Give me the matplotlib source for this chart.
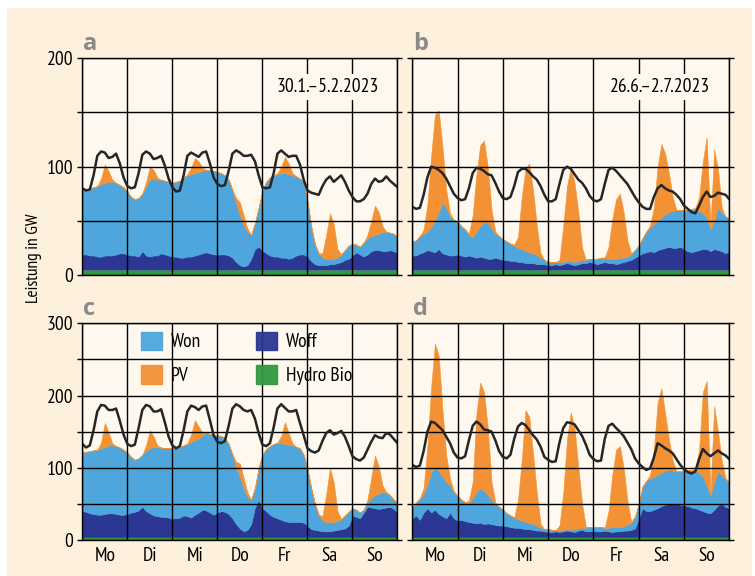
import numpy as np
import matplotlib
matplotlib.use("Agg")
import matplotlib.pyplot as plt
from matplotlib.patches import Patch, Rectangle
from matplotlib import font_manager

# ---------------------------------------------------------------- data
# 2-hourly values in GW, Monday 0:00 up to the following Monday 0:00
hours = np.arange(0, 170, 2)
day_labels = ["Mo", "Di", "Mi", "Do", "Fr", "Sa", "So"]
source_labels = ["Hydro Bio", "Woff", "Won", "PV"]

# --- a: winter week, today's capacities
hydro_a = [
    5, 5, 5, 5, 5, 5, 5, 5, 5, 5, 5, 5,
    5, 5, 5, 5, 5, 5, 5, 5, 5, 5, 5, 5,
    5, 5, 5, 5, 5, 5, 5, 5, 5, 5, 5, 5,
    5, 5, 5, 5, 5, 5, 5, 5, 5, 5, 5, 5,
    5, 5, 5, 5, 5, 5, 5, 5, 5, 5, 5, 5,
    5, 5, 5, 5, 5, 5, 5, 5, 5, 5, 5, 5,
    5, 5, 5, 5, 5, 5, 5, 5, 5, 5, 5, 5,
    5,
]
woff_a = [
    14, 14, 13, 13, 12, 12, 13, 13, 13, 14, 15, 15,
    14, 13, 13, 12, 17, 13, 12, 13, 13, 15, 14, 13,
    12, 12, 11, 11, 12, 12, 13, 14, 15, 16, 15, 14,
    14, 14, 14, 13, 11, 7, 4, 3, 4, 10, 19, 21,
    18, 15, 13, 12, 12, 11, 11, 10, 11, 13, 14, 14,
    12, 8, 5, 4, 4, 4, 5, 5, 6, 7, 9, 10,
    13, 16, 14, 12, 14, 17, 18, 18, 17, 17, 18, 17,
    15,
]
won_a = [
    59, 60, 62, 63, 65, 67, 67, 68, 68, 66, 63, 61,
    58, 54, 52, 54, 53, 64, 71, 71, 70, 68, 68, 68,
    68, 69, 71, 74, 75, 76, 76, 76, 76, 76, 77, 77,
    76, 75, 73, 70, 62, 54, 46, 38, 31, 22, 24, 36,
    55, 66, 72, 75, 76, 78, 78, 78, 76, 73, 70, 67,
    51, 32, 18, 11, 7, 6, 5, 5, 5, 7, 9, 12,
    11, 7, 7, 13, 15, 14, 14, 15, 18, 18, 16, 16,
    15,
]
pv_a = [
    0, 0, 0, 0, 0, 5, 17, 10, 2, 0, 0, 0,
    0, 0, 0, 0, 0, 4, 12, 8, 2, 0, 0, 0,
    0, 0, 0, 0, 1, 6, 14, 10, 3, 0, 0, 0,
    0, 0, 0, 0, 1, 5, 12, 9, 3, 0, 0, 0,
    0, 0, 0, 0, 1, 6, 15, 10, 2, 0, 0, 0,
    0, 0, 0, 0, 4, 22, 42, 32, 8, 0, 0, 0,
    0, 0, 0, 0, 3, 14, 27, 20, 5, 0, 0, 0,
    0,
]
load_a = [
    80, 78, 79, 92, 110, 114, 113, 108, 109, 112, 103, 90,
    82, 80, 81, 94, 111, 114, 112, 107, 108, 110, 101, 89,
    81, 77, 78, 92, 110, 113, 111, 109, 113, 114, 103, 90,
    84, 82, 83, 96, 112, 115, 113, 110, 110, 111, 105, 92,
    81, 80, 81, 94, 112, 115, 112, 109, 110, 110, 102, 88,
    78, 76, 75, 74, 82, 88, 91, 86, 89, 92, 86, 78,
    72, 68, 68, 70, 75, 84, 89, 86, 87, 91, 87, 84,
    81,
]

# --- b: summer week, today's capacities
hydro_b = list(hydro_a)
woff_b = [
    13, 13, 15, 16, 18, 17, 16, 19, 15, 14, 13, 13,
    14, 13, 12, 13, 12, 11, 12, 11, 10, 10, 11, 10,
    9, 9, 8, 8, 7, 7, 6, 6, 6, 5, 5, 5,
    4, 4, 5, 4, 5, 6, 5, 4, 5, 6, 6, 7,
    6, 5, 6, 7, 6, 6, 5, 6, 7, 8, 9, 11,
    13, 15, 16, 17, 16, 18, 19, 20, 21, 20, 20, 21,
    19, 17, 16, 17, 18, 19, 19, 17, 19, 18, 17, 15,
    17,
]
won_b = [
    13, 14, 16, 17, 17, 22, 29, 34, 47, 43, 36, 33,
    30, 27, 25, 19, 18, 24, 28, 33, 33, 28, 22, 21,
    19, 17, 16, 14, 13, 12, 11, 10, 9, 8, 6, 4,
    3, 3, 2, 3, 2, 2, 3, 3, 3, 3, 3, 3,
    4, 5, 5, 4, 4, 4, 5, 5, 4, 4, 5, 7,
    9, 14, 19, 22, 26, 27, 29, 31, 32, 34, 35, 34,
    36, 38, 40, 38, 36, 33, 29, 20, 26, 39, 36, 34,
    30,
]
pv_b = [
    0, 0, 0, 4, 25, 66, 98, 94, 51, 16, 3, 0,
    0, 0, 0, 1, 20, 53, 75, 75, 52, 17, 2, 0,
    0, 0, 0, 1, 10, 48, 76, 82, 58, 27, 4, 0,
    0, 0, 0, 2, 33, 69, 87, 73, 45, 11, 0, 0,
    0, 0, 0, 0, 11, 37, 55, 59, 42, 15, 1, 0,
    0, 0, 0, 2, 15, 50, 68, 56, 36, 13, 0, 0,
    0, 0, 0, 2, 13, 48, 74, 3, 66, 36, 4, 0,
    0,
]
load_b = [
    63, 61, 62, 74, 90, 100, 99, 97, 94, 89, 82, 75,
    71, 69, 70, 80, 94, 99, 98, 96, 93, 92, 85, 77,
    71, 70, 72, 82, 95, 98, 98, 95, 91, 88, 82, 74,
    68, 68, 70, 84, 97, 100, 98, 93, 88, 85, 80, 73,
    69, 68, 70, 84, 97, 99, 96, 92, 88, 84, 78, 72,
    67, 63, 61, 61, 72, 80, 83, 80, 78, 77, 74, 70,
    64, 61, 58, 57, 64, 72, 77, 72, 73, 76, 75, 74,
    70,
]

# --- c: winter week, expanded capacities
hydro_c = [
    4, 4, 4, 4, 4, 4, 4, 4, 4, 4, 4, 4,
    4, 4, 4, 4, 4, 4, 4, 4, 4, 4, 4, 4,
    4, 4, 4, 4, 4, 4, 4, 4, 4, 4, 4, 4,
    4, 4, 4, 4, 4, 4, 4, 4, 4, 4, 4, 4,
    4, 4, 4, 4, 4, 4, 4, 4, 4, 4, 4, 4,
    4, 4, 4, 4, 4, 4, 4, 4, 4, 4, 4, 4,
    4, 4, 4, 4, 4, 4, 4, 4, 4, 4, 4, 4,
    4,
]
woff_c = [
    36, 35, 33, 32, 31, 31, 32, 33, 33, 32, 31, 31,
    32, 34, 35, 37, 42, 36, 33, 30, 29, 28, 28, 27,
    26, 26, 27, 30, 29, 27, 31, 34, 38, 37, 34, 31,
    34, 36, 35, 32, 26, 18, 12, 8, 10, 18, 41, 51,
    40, 36, 31, 28, 26, 24, 22, 21, 21, 21, 21, 20,
    16, 11, 10, 9, 8, 8, 8, 9, 10, 11, 12, 16,
    30, 28, 26, 34, 42, 41, 40, 39, 40, 41, 42, 39,
    34,
]
won_c = [
    82, 83, 86, 88, 90, 92, 93, 94, 94, 94, 93, 90,
    85, 77, 72, 72, 72, 83, 90, 95, 95, 96, 95, 96,
    97, 98, 98, 97, 100, 105, 103, 103, 103, 107, 109, 111,
    107, 104, 102, 97, 88, 78, 72, 60, 46, 34, 27, 45,
    74, 86, 95, 101, 104, 106, 107, 107, 106, 104, 102, 94,
    78, 57, 36, 22, 15, 13, 13, 12, 12, 14, 18, 19,
    10, 10, 8, 4, 6, 13, 18, 21, 23, 21, 16, 13,
    13,
]
pv_c = [
    0, 0, 0, 0, 0, 8, 33, 18, 3, 0, 0, 0,
    0, 0, 0, 0, 0, 8, 25, 14, 3, 0, 0, 0,
    0, 0, 0, 0, 1, 10, 28, 16, 4, 0, 0, 0,
    0, 0, 0, 0, 1, 8, 18, 14, 6, 0, 0, 0,
    0, 0, 0, 0, 1, 10, 30, 16, 3, 0, 0, 0,
    0, 0, 0, 0, 6, 38, 75, 55, 14, 0, 0, 0,
    0, 0, 0, 0, 4, 28, 55, 38, 9, 0, 0, 0,
    0,
]
load_c = [
    133, 128, 131, 152, 178, 187, 186, 180, 180, 182, 165, 146,
    133, 130, 132, 155, 180, 187, 185, 178, 178, 181, 163, 143,
    131, 127, 130, 152, 178, 186, 184, 180, 185, 186, 166, 145,
    136, 134, 137, 158, 182, 188, 185, 180, 178, 180, 168, 148,
    132, 130, 134, 156, 182, 188, 183, 178, 178, 180, 162, 145,
    127, 123, 121, 124, 137, 148, 152, 146, 148, 151, 143, 130,
    116, 112, 110, 114, 125, 136, 145, 142, 141, 148, 146, 140,
    134,
]

# --- d: summer week, expanded capacities
hydro_d = list(hydro_c)
woff_d = [
    26, 30, 24, 34, 40, 34, 38, 32, 29, 26, 34, 26,
    23, 24, 22, 21, 20, 19, 20, 18, 19, 18, 17, 16,
    16, 15, 14, 13, 13, 12, 11, 11, 10, 9, 9, 8,
    7, 7, 8, 7, 8, 9, 8, 7, 9, 10, 8, 8,
    9, 8, 8, 9, 8, 7, 8, 8, 9, 9, 10, 12,
    26, 40, 36, 36, 38, 40, 43, 45, 46, 47, 46, 45,
    44, 43, 41, 40, 38, 36, 34, 33, 38, 44, 46, 42,
    40,
]
won_d = [
    15, 18, 29, 26, 32, 56, 58, 59, 55, 50, 38, 36,
    34, 28, 26, 26, 34, 43, 47, 46, 40, 34, 29, 26,
    22, 18, 16, 14, 12, 11, 10, 9, 8, 7, 4, 3,
    4, 3, 2, 2, 2, 2, 2, 4, 3, 3, 5, 6,
    5, 6, 6, 4, 5, 7, 6, 6, 6, 8, 10, 16,
    20, 30, 42, 45, 46, 46, 46, 47, 47, 45, 45, 46,
    49, 50, 52, 52, 51, 48, 37, 25, 38, 47, 40, 38,
    36,
]
pv_d = [
    0, 0, 1, 8, 53, 118, 172, 160, 92, 37, 9, 2,
    0, 0, 0, 4, 22, 109, 147, 137, 92, 24, 2, 0,
    0, 0, 0, 0, 26, 83, 155, 146, 98, 45, 5, 0,
    0, 0, 0, 7, 51, 125, 163, 140, 84, 33, 1, 0,
    0, 0, 0, 0, 23, 72, 107, 112, 81, 34, 1, 0,
    0, 0, 0, 5, 37, 100, 117, 79, 43, 14, 0, 0,
    0, 0, 0, 2, 32, 117, 145, 3, 105, 55, 20, 2,
    0,
]
load_d = [
    104, 101, 103, 123, 150, 164, 162, 157, 152, 143, 134, 121,
    114, 113, 116, 138, 158, 164, 160, 153, 152, 150, 138, 123,
    115, 113, 118, 140, 157, 162, 159, 152, 145, 139, 129, 115,
    111, 108, 109, 135, 155, 163, 162, 160, 152, 144, 132, 118,
    112, 109, 110, 140, 158, 161, 155, 150, 144, 135, 126, 113,
    106, 101, 97, 99, 114, 134, 131, 127, 124, 120, 112, 104,
    98, 94, 92, 95, 112, 126, 120, 116, 120, 124, 120, 117,
    112,
]

# ---------------------------------------------------------------- style
installed = {f.name for f in font_manager.fontManager.ttflist}


def first_installed(candidates, fallback="DejaVu Sans"):
    for name in candidates:
        if name in installed:
            return name
    return fallback


narrow_font = first_installed([
    "PT Sans Narrow", "Fira Sans Condensed", "Roboto Condensed", "Archivo Narrow",
    "Encode Sans Condensed", "IBM Plex Sans Condensed", "Asap Condensed",
    "Barlow Semi Condensed", "Open Sans Condensed", "Liberation Sans Narrow",
])
plt.rcParams["font.family"] = [narrow_font, "DejaVu Sans"]

CREAM = "#fdf0dc"
AX_BG = "#fef8ef"
COLORS = {"Hydro Bio": "#2f9a3f", "Woff": "#2b3793", "Won": "#4ea6dc", "PV": "#f39234"}
LOAD_COLOR = "#262626"
LETTER_COLOR = "#8a8a8a"
FS = 14

W, H = 755, 576
fig = plt.figure(figsize=(W / 100, H / 100), dpi=100, facecolor="white")
fig.patches.append(Rectangle((7 / W, 0), (752 - 7) / W, (H - 8) / H,
                             transform=fig.transFigure, facecolor=CREAM,
                             edgecolor="none", zorder=-10))


def add_axes_px(left, top, right, bottom):
    return fig.add_axes([left / W, 1 - bottom / H, (right - left) / W, (bottom - top) / H])


panels = [
    dict(box=(82.3, 58.3, 397.5, 275), letter="a", ymax=200, date="30.1.\u20135.2.2023",
         series=(hydro_a, woff_a, won_a, pv_a), load=load_a, left=True, bottom=False),
    dict(box=(412.3, 58.3, 729.3, 275), letter="b", ymax=200, date="26.6.\u20132.7.2023",
         series=(hydro_b, woff_b, won_b, pv_b), load=load_b, left=False, bottom=False),
    dict(box=(82.3, 323.3, 397.5, 540), letter="c", ymax=300, date=None,
         series=(hydro_c, woff_c, won_c, pv_c), load=load_c, left=True, bottom=True),
    dict(box=(412.3, 323.3, 729.3, 540), letter="d", ymax=300, date=None,
         series=(hydro_d, woff_d, won_d, pv_d), load=load_d, left=False, bottom=True),
]

days = hours / 24.0
fill_colors = [COLORS[s] for s in source_labels]

for p in panels:
    ax = add_axes_px(*p["box"])
    ax.set_facecolor(AX_BG)
    polys = ax.stackplot(days, *p["series"], colors=fill_colors, linewidth=0.4, zorder=1)
    for poly, c in zip(polys, fill_colors):
        poly.set_edgecolor(c)
    ax.plot(days, p["load"], color=LOAD_COLOR, lw=1.8, zorder=3, solid_joinstyle="round")

    ax.set_xlim(0, 7)
    ax.set_ylim(0, p["ymax"])
    ax.set_xticks(np.arange(7) + 0.5)
    ax.set_xticklabels(day_labels if p["bottom"] else [])
    ax.set_xticks(np.arange(8), minor=True)
    ax.set_yticks(np.arange(0, p["ymax"] + 1, 100))
    ax.set_yticks(np.arange(50, p["ymax"], 100), minor=True)
    if not p["left"]:
        ax.set_yticklabels([])

    ax.set_axisbelow(False)
    ax.grid(which="both", axis="y", color="black", lw=1.0)
    ax.grid(which="minor", axis="x", color="black", lw=1.0)
    ax.tick_params(axis="x", which="both", length=0, labelsize=FS, pad=5)
    ax.tick_params(axis="y", which="both", direction="out", length=3.5, width=1.0,
                   left=True, right=True, labelsize=FS, pad=3)
    for sp in ax.spines.values():
        sp.set_color("black")
        sp.set_linewidth(1.0)
        sp.set_zorder(4)

    left, top = p["box"][0], p["box"][1]
    fig.text((left + 0.5) / W, 1 - (top - 8.5) / H, p["letter"], color=LETTER_COLOR,
             fontsize=17, fontweight="bold", family=["Open Sans", "DejaVu Sans"],
             ha="left", va="baseline")

    if p["date"]:
        ax.text(0.78, 0.868, p["date"], transform=ax.transAxes, fontsize=FS,
                ha="center", va="center", zorder=5,
                bbox=dict(facecolor=AX_BG, edgecolor="none", pad=3))

    if p["letter"] == "c":
        order = ["Won", "PV", "Woff", "Hydro Bio"]
        handles = [Patch(facecolor=COLORS[n], edgecolor=COLORS[n], alpha=0.95) for n in order]
        leg = ax.legend(handles, order, ncol=2, loc="upper left",
                        bbox_to_anchor=(0.186, 0.962), frameon=False, fontsize=FS,
                        handlelength=1.08, handleheight=1.08, handletextpad=0.45,
                        labelspacing=0.72, columnspacing=2.85, borderpad=0,
                        borderaxespad=0)
        leg.set_zorder(6)

fig.text(34 / W, 1 - 258 / H, "Leistung in GW", rotation=90, fontsize=12.5,
         ha="center", va="center")

fig.savefig("out.png", dpi=100, facecolor="white")
